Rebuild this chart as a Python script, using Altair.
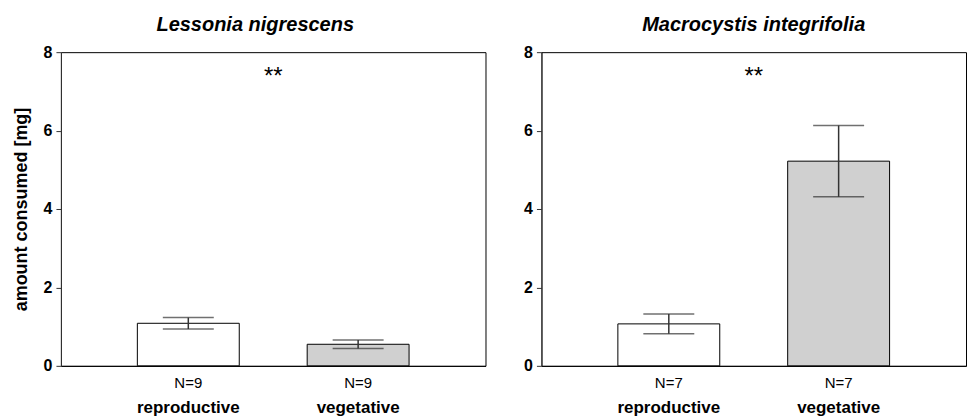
import altair as alt
import pandas as pd

# ---- data ----
categories = ["reproductive", "vegetative"]
species = ["Lessonia nigrescens", "Macrocystis integrifolia"]

lessonia_mean = [1.085, 0.55]
lessonia_se = [0.145, 0.11]
lessonia_n = ["N=9", "N=9"]

macro_mean = [1.07, 5.22]
macro_se = [0.25, 0.91]
macro_n = ["N=7", "N=7"]

sig_label = "**"
sig_value = 7.37

y_ticks = [0, 2, 4, 6, 8]
fill_colors = ["#ffffff", "#d0d0d0"]

W = 425
H = 314
FONT = "Liberation Sans"
Y_TITLE = "amount consumed [mg]"


def panel(title, means, ses, ns, show_ytitle, title_dx):
    df = pd.DataFrame({
        "category": categories,
        "mean": means,
        "lo": [m - s for m, s in zip(means, ses)],
        "hi": [m + s for m, s in zip(means, ses)],
        "n": ns,
    })
    ytitle = Y_TITLE if show_ytitle else None
    yscale = alt.Scale(domain=[0, 8], nice=False)
    yaxis = alt.Axis(values=y_ticks, grid=False, tickSize=5, labelPadding=4,
                     labelFont=FONT, labelFontSize=16, labelFontWeight="bold",
                     labelColor="black", tickColor="#333333", domainColor="#333333",
                     titleFont=FONT, titleFontSize=18, titleFontWeight="bold",
                     titleColor="black", titlePadding=13)
    x = alt.X("category:N", sort=categories,
              scale=alt.Scale(paddingInner=0.4, paddingOuter=0.45),
              axis=alt.Axis(title=None, labelAngle=0, ticks=False,
                            labelFont=FONT, labelFontSize=17, labelFontWeight="bold",
                            labelColor="black", labelPadding=34, domainColor="black"))
    base = alt.Chart(df)
    bars = base.mark_bar(stroke="black", strokeWidth=1).encode(
        x=x,
        y=alt.Y("mean:Q", scale=yscale, axis=yaxis, title=ytitle),
        fill=alt.Fill("category:N", scale=alt.Scale(domain=categories, range=fill_colors),
                      legend=None),
    )
    rule = base.mark_rule(color="#333333", strokeWidth=1.5).encode(
        x=x, y=alt.Y("lo:Q", scale=yscale, title=ytitle), y2="hi:Q")
    cap_hi = base.mark_tick(color="#333333", size=51, thickness=1.5).encode(
        x=x, y=alt.Y("hi:Q", scale=yscale, title=ytitle))
    cap_lo = base.mark_tick(color="#333333", size=51, thickness=1.5).encode(
        x=x, y=alt.Y("lo:Q", scale=yscale, title=ytitle))
    ntext = base.mark_text(font=FONT, fontSize=15, baseline="middle", color="black").encode(
        x=x, y=alt.value(H + 17), text="n:N")
    sig = alt.Chart(pd.DataFrame({"label": [sig_label], "v": [sig_value]})).mark_text(
        font=FONT, fontSize=24, baseline="middle", color="black").encode(
        x=alt.value(W / 2), y=alt.Y("v:Q", scale=yscale, title=ytitle), text="label:N")
    return alt.layer(bars, rule, cap_hi, cap_lo, ntext, sig).properties(
        width=W, height=H,
        title=alt.TitleParams(title, font=FONT, fontSize=20, fontStyle="italic",
                              fontWeight="bold", color="black", anchor="middle",
                              offset=9, dx=title_dx),
    )


left = panel(species[0], lessonia_mean, lessonia_se, lessonia_n, True, -18)
right = panel(species[1], macro_mean, macro_se, macro_n, False, 0)

chart = alt.hconcat(left, right, spacing=36).properties(
    padding={"left": 11, "top": 14, "right": 0, "bottom": 0},
    background="white",
).configure_view(stroke="black", strokeWidth=1)

chart.save("out.html", embed_options={"renderer": "svg", "actions": False})
